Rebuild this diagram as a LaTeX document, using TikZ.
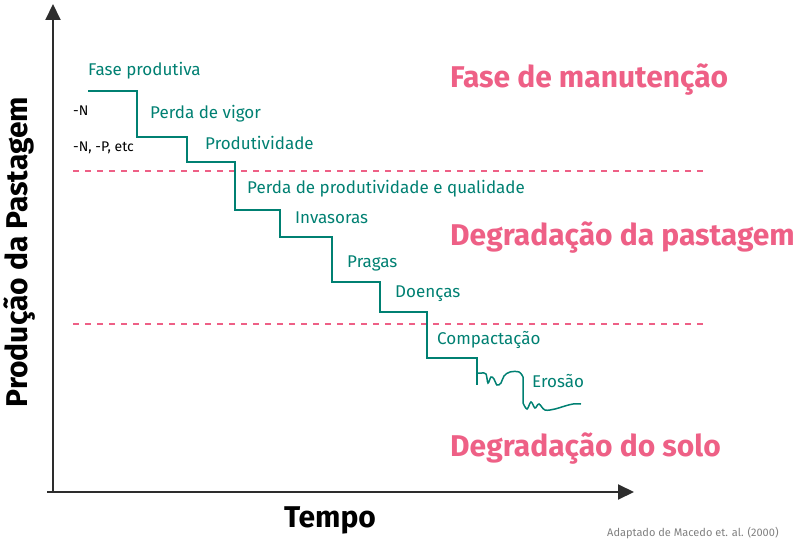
\documentclass[tikz,border=0pt]{standalone}
\usepackage{fontspec}
\setmainfont{Fira Sans}
\usetikzlibrary{arrows.meta}
\definecolor{verde}{RGB}{0,128,114}
\definecolor{rosa}{RGB}{238,96,134}
\definecolor{eixo}{RGB}{45,45,45}
\tikzset{
 etapa/.style={anchor=west,inner sep=0pt,text=verde,font=\fontsize{17}{17}\selectfont},
 nutri/.style={anchor=west,inner sep=0pt,text=black,font=\fontsize{14}{14}\selectfont},
 fase/.style={anchor=west,inner sep=0pt,text=rosa,font=\fontsize{30}{30}\selectfont\bfseries},
 limite/.style={rosa,line width=1.3pt,dash pattern=on 6pt off 6pt}
}
\begin{document}
\begin{tikzpicture}[x=1pt,y=-1pt]
 \useasboundingbox (0,0) rectangle (798,540);
 % eixos
 \coordinate (origem) at (53,492);
 \coordinate (topo) at (53,4);
 \coordinate (fim) at (634,492);
 \draw[eixo,line width=2pt,-{Triangle[length=16pt,width=15pt]}] (origem) -- (topo);
 \draw[eixo,line width=2pt,-{Triangle[length=16pt,width=15pt]}] (47,492) -- (fim);
 \node[rotate=90,font=\fontsize{30}{30}\selectfont\bfseries] (ylab) at (20,252) {Produção da Pastagem};
 \node[font=\fontsize{30}{30}\selectfont\bfseries] (xlab) at (330,520) {Tempo};
 % limites
 \draw[limite] (73,171) -- (703,171);
 \draw[limite] (73,324) -- (703,324);
 \node[fase] (manut) at (450,80) {Fase de manutenção};
 \node[fase] (degpast) at (450,238) {Degradação da pastagem};
 \node[fase] (degsolo) at (450,449) {Degradação do solo};
 % escada
 \draw[verde,line width=1.5pt] (88,91) -- (137,91) -- (137,137) -- (187,137) -- (187,162)
  -- (235,162) -- (235,210) -- (280,210) -- (280,237) -- (332,237) -- (332,282)
  -- (380,282) -- (380,312) -- (427,312) -- (427,358) -- (477,358) -- (477,385);
 \draw[verde,line width=1.5pt] (477,373) -- (482,373)
  plot[smooth,tension=0.6] coordinates {(482,373) (486,374) (488,383) (491,377) (494,379)
  (497,385) (501,383) (504,376) (510,372) (519,372) (523,377)}
  -- (523,403)
  plot[smooth,tension=0.6] coordinates {(523,403) (527,409) (531,402) (535,408) (539,404)
  (545,410) (555,409) (565,406) (573,404) (581,404)};
 \node[etapa] (produtiva) at (88,71) {Fase produtiva};
 \node[etapa] (vigor) at (150,114) {Perda de vigor};
 \node[etapa] (produtividade) at (205,143) {Produtividade};
 \node[etapa] (qualidade) at (247,189) {Perda de produtividade e qualidade};
 \node[etapa] (invasoras) at (295,218) {Invasoras};
 \node[etapa] (pragas) at (347,263) {Pragas};
 \node[etapa] (doencas) at (395,294) {Doenças};
 \node[etapa] (compact) at (437,340) {Compactação};
 \node[etapa] (erosao) at (532,381) {Erosão};
 \node[nutri] (n) at (73,111) {-N};
 \node[nutri] (npetc) at (73,148) {-N, -P, etc};
 \node[anchor=base west,inner sep=0pt,text=gray,font=\fontsize{11}{11}\selectfont] (fonte) at (607,536) {Adaptado de Macedo et. al. (2000)};
\end{tikzpicture}
\end{document}
